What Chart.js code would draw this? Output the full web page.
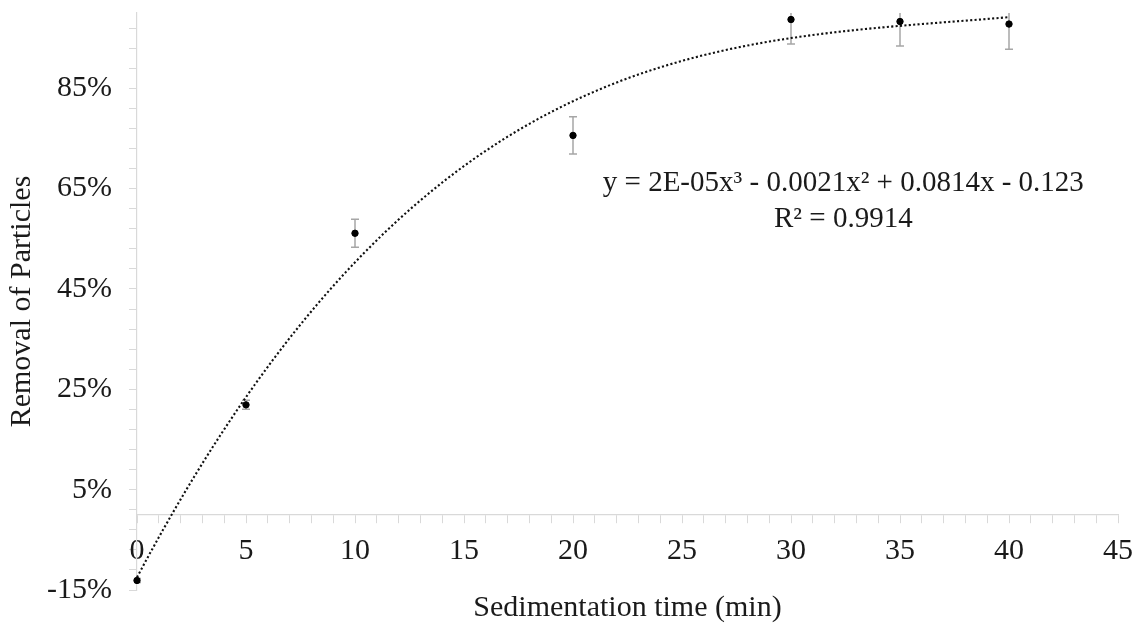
<!DOCTYPE html>
<html>
<head>
<meta charset="utf-8">
<script src="https://cdn.jsdelivr.net/npm/chart.js@4/dist/chart.umd.min.js"></script>
<style>
  html, body { margin: 0; padding: 0; background: #ffffff; }
  #wrap { width: 1139px; height: 627px; position: relative; }
</style>
</head>
<body>
<div id="wrap"><canvas id="c"></canvas></div>
<script>
// ---- Data ----
const times = [0, 5, 10, 20, 30, 35, 40];                          // Sedimentation time (min)
const removal = [-0.131, 0.219, 0.561, 0.756, 0.987, 0.983, 0.978]; // Removal of particles (fraction)
const errors = [0.004, 0.009, 0.028, 0.037, 0.049, 0.049, 0.050];   // error bar half-widths

const xTickLabels = [0, 5, 10, 15, 20, 25, 30, 35, 40, 45];
const yTickLabels = [-0.15, 0.05, 0.25, 0.45, 0.65, 0.85];
const xMinorStep = 1;
const yMinorStep = 0.04;

const equationLines = ['y = 2E-05x\u00B3 - 0.0021x\u00B2 + 0.0814x - 0.123', 'R\u00B2 = 0.9914'];
const equationAnchor = [32.4, 0.625]; // data coordinates of the label centre

const xTitle = 'Sedimentation time (min)';
const yTitle = 'Removal of Particles';

// ---- Polynomial (order 3) least-squares trendline, like the spreadsheet trendline ----
function polyfit(xs, ys, deg) {
  const n = deg + 1;
  const A = [], b = [];
  for (let i = 0; i < n; i++) {
    A.push(new Array(n).fill(0));
    b.push(0);
  }
  for (let k = 0; k < xs.length; k++) {
    for (let i = 0; i < n; i++) {
      for (let j = 0; j < n; j++) A[i][j] += Math.pow(xs[k], i + j);
      b[i] += ys[k] * Math.pow(xs[k], i);
    }
  }
  for (let i = 0; i < n; i++) {
    let p = i;
    for (let r = i + 1; r < n; r++) if (Math.abs(A[r][i]) > Math.abs(A[p][i])) p = r;
    [A[i], A[p]] = [A[p], A[i]]; [b[i], b[p]] = [b[p], b[i]];
    for (let r = i + 1; r < n; r++) {
      const f = A[r][i] / A[i][i];
      for (let c = i; c < n; c++) A[r][c] -= f * A[i][c];
      b[r] -= f * b[i];
    }
  }
  const coef = new Array(n).fill(0);
  for (let i = n - 1; i >= 0; i--) {
    let s = b[i];
    for (let c = i + 1; c < n; c++) s -= A[i][c] * coef[c];
    coef[i] = s / A[i][i];
  }
  return coef;
}
const coef = polyfit(times, removal, 3);
const polyVal = x => coef.reduce((s, c, i) => s + c * Math.pow(x, i), 0);
const trend = [];
const tMin = Math.min(...times), tMax = Math.max(...times);
for (let i = 0; i <= 200; i++) {
  const x = tMin + (tMax - tMin) * i / 200;
  trend.push({ x: x, y: polyVal(x) });
}

const points = times.map((t, i) => ({ x: t, y: removal[i] }));

const FONT = '"Liberation Serif", "Times New Roman", serif';
const AXIS_GRAY = '#d9d9d9';
const TEXT = '#1a1a1a';

const errorBarPlugin = {
  id: 'errorBars',
  beforeDatasetsDraw(chart) {
    const { ctx, chartArea, scales } = chart;
    ctx.save();
    ctx.beginPath();
    ctx.rect(chartArea.left, chartArea.top, chartArea.right - chartArea.left, chartArea.bottom - chartArea.top);
    ctx.clip();
    ctx.strokeStyle = '#a6a6a6';
    ctx.lineWidth = 1.5;
    const cap = 4;
    times.forEach((t, i) => {
      const px = scales.x.getPixelForValue(t);
      const yTop = scales.y.getPixelForValue(removal[i] + errors[i]);
      const yBot = scales.y.getPixelForValue(removal[i] - errors[i]);
      ctx.beginPath();
      ctx.moveTo(px, yTop); ctx.lineTo(px, yBot);
      ctx.moveTo(px - cap, yTop); ctx.lineTo(px + cap, yTop);
      ctx.moveTo(px - cap, yBot); ctx.lineTo(px + cap, yBot);
      ctx.stroke();
    });
    ctx.restore();
  }
};

const equationPlugin = {
  id: 'equation',
  afterDraw(chart) {
    const { ctx, scales } = chart;
    const cx = scales.x.getPixelForValue(equationAnchor[0]);
    const cy = scales.y.getPixelForValue(equationAnchor[1]);
    ctx.save();
    ctx.font = '29px ' + FONT;
    ctx.fillStyle = TEXT;
    ctx.textAlign = 'center';
    ctx.textBaseline = 'middle';
    const lh = 36;
    equationLines.forEach((line, i) => {
      ctx.fillText(line, cx, cy + (i - (equationLines.length - 1) / 2) * lh);
    });
    ctx.restore();
  }
};

new Chart(document.getElementById('c'), {
  type: 'scatter',
  data: {
    datasets: [
      {
        label: 'Removal',
        data: points,
        backgroundColor: '#000000',
        borderColor: '#000000',
        pointRadius: 3.2,
        pointHoverRadius: 3.2,
        clip: false,
        order: 0
      },
      {
        label: 'Poly. (Removal)',
        data: trend,
        showLine: true,
        borderColor: '#111111',
        borderWidth: 2.1,
        borderDash: [2.1, 2.3],
        pointRadius: 0,
        fill: false,
        clip: false,
        order: 1
      }
    ]
  },
  options: {
    responsive: true,
    maintainAspectRatio: false,
    animation: false,
    layout: { padding: { top: 13, right: 21, left: 0, bottom: 0 } },
    plugins: {
      legend: { display: false },
      tooltip: { enabled: false }
    },
    scales: {
      x: {
        type: 'linear',
        min: 0,
        max: 45,
        position: { y: 0 },
        afterBuildTicks(scale) {
          const t = [];
          for (let v = scale.min; v <= scale.max + 1e-9; v += xMinorStep) t.push({ value: v });
          scale.ticks = t;
        },
        afterFit(scale) { scale.paddingLeft = 0; scale.paddingRight = 0; },
        grid: { drawOnChartArea: false, drawTicks: true, tickLength: 8, color: AXIS_GRAY, tickColor: AXIS_GRAY },
        border: { display: true, color: AXIS_GRAY, width: 1.2 },
        ticks: {
          autoSkip: false,
          maxRotation: 0,
          padding: 10,
          color: TEXT,
          font: { family: FONT, size: 30 },
          callback: v => (xTickLabels.some(l => Math.abs(l - v) < 1e-6) ? String(v) : '')
        }
      },
      x2: {
        type: 'linear',
        position: 'bottom',
        display: true,
        afterFit(scale) { scale.height = 37; scale.paddingLeft = 0; scale.paddingRight = 0; },
        grid: { display: false },
        border: { display: false },
        ticks: { display: false },
        title: {
          display: true,
          text: xTitle,
          color: TEXT,
          font: { family: FONT, size: 30 },
          padding: { top: 0, bottom: 1 }
        }
      },
      y: {
        type: 'linear',
        min: -0.15,
        max: 1.0,
        position: 'left',
        afterFit(scale) { scale.width = 137; scale.paddingTop = 0; scale.paddingBottom = 0; },
        afterBuildTicks(scale) {
          const t = [];
          for (let v = scale.min; v <= scale.max - 0.02; v += yMinorStep) t.push({ value: Math.round(v * 1e6) / 1e6 });
          scale.ticks = t;
        },
        grid: { drawOnChartArea: false, drawTicks: true, tickLength: 8, color: AXIS_GRAY, tickColor: AXIS_GRAY },
        border: { display: true, color: AXIS_GRAY, width: 1.2 },
        ticks: {
          autoSkip: false,
          padding: 17,
          color: TEXT,
          font: { family: FONT, size: 30 },
          callback: v => (yTickLabels.some(l => Math.abs(l - v) < 1e-6) ? Math.round(v * 100) + '%' : '')
        },
        title: {
          display: true,
          text: yTitle,
          color: TEXT,
          font: { family: FONT, size: 30 },
          padding: { top: 4, bottom: 0 }
        }
      }
    }
  },
  plugins: [errorBarPlugin, equationPlugin]
});
</script>
</body>
</html>
